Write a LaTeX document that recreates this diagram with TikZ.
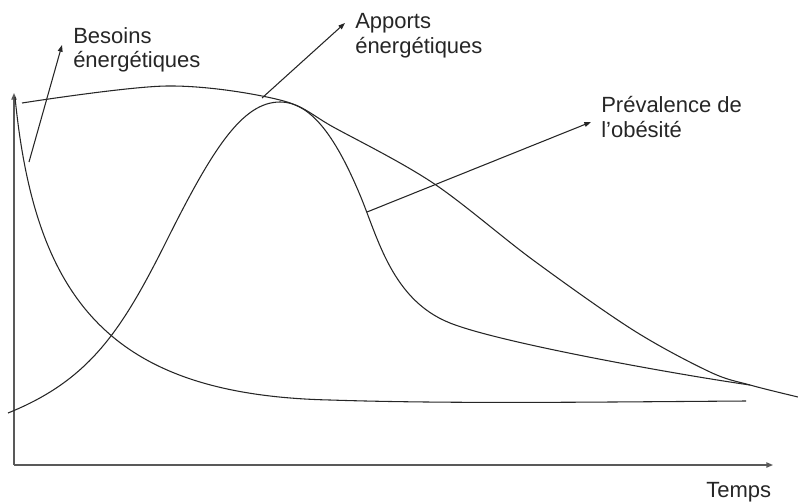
\documentclass[tikz,border=0pt]{standalone}
\usepackage{fontspec}
\setmainfont{Liberation Sans}
\usetikzlibrary{arrows.meta}
\begin{document}
\begin{tikzpicture}[x=0.75pt,y=-0.75pt,
  curve/.style={line width=0.8pt,draw=black!85},
  axis/.style={line width=1pt,draw=black!65,-{Triangle[length=5pt,width=4pt]}},
  pointer/.style={line width=0.8pt,draw=black!85,-{Triangle[length=5pt,width=3.6pt]}},
  lbl/.style={anchor=north west,inner sep=0pt,align=left,font=\fontsize{16.5}{18.5}\selectfont,text=black!85}]
\useasboundingbox (0,0) rectangle (798,503);
% axes
\coordinate (o) at (14,465);
\coordinate (ytop) at (14,93);
\coordinate (xend) at (773,465);
\draw[axis] (o) -- (ytop);
\draw[axis] (o) -- (xend);
% Besoins (decay) curve
\draw[curve] (15,97) .. controls (35,300) and (110,395) .. (330,400)
  .. controls (450,404) and (600,402) .. (746,401);
% Apports (bell) curve
\draw[curve] (8,413) .. controls (90,380) and (122,330) .. (167,240)
  .. controls (212,150) and (242,102) .. (280,102)
  .. controls (312,102) and (337,140) .. (360,195)
  .. controls (378,238) and (392,300) .. (450,323)
  .. controls (500,343) and (680,375) .. (750,385);
% Prevalence curve
\draw[curve] plot[smooth,tension=0.55] coordinates {(22,103) (167,86) (280,100) (335,128) (433,183) (533,260) (633,330) (710,372) (750,385) (798,397)};
% labels
\node[lbl] (besoins) at (73,27) {Besoins\\énergétiques};
\node[lbl] (apports) at (355,13) {Apports\\énergétiques};
\node[lbl] (prevalence) at (601,96) {Prévalence de\\l’obésité};
\node[lbl] (temps) at (706,482) {Temps};
% pointers
\coordinate (b1) at (29,162);
\coordinate (b2) at (62,45);
\coordinate (a1) at (262,98);
\coordinate (a2) at (345,23);
\coordinate (p1) at (367,212);
\coordinate (p2) at (591,122);
\draw[pointer] (b1) -- (b2);
\draw[pointer] (a1) -- (a2);
\draw[pointer] (p1) -- (p2);
\end{tikzpicture}
\end{document}
